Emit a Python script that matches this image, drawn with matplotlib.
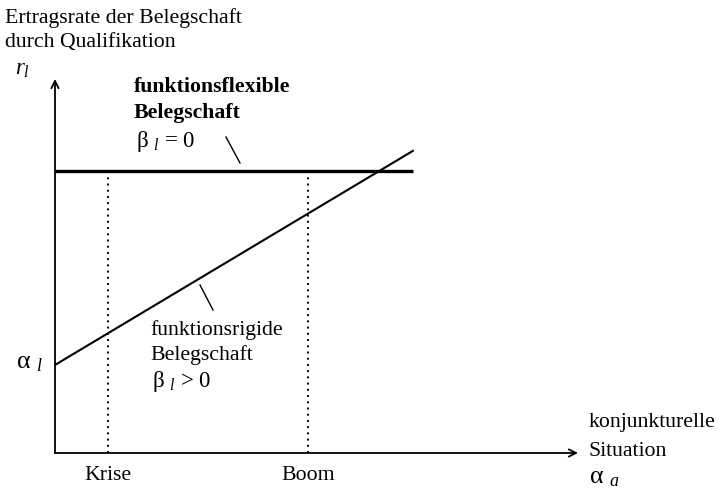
import matplotlib
matplotlib.use("Agg")
import matplotlib.pyplot as plt

plt.rcParams['font.family'] = ['Liberation Serif', 'DejaVu Serif']
plt.rcParams['mathtext.fontset'] = 'custom'
plt.rcParams['mathtext.rm'] = 'Liberation Serif'
plt.rcParams['mathtext.it'] = 'Liberation Serif:italic'
plt.rcParams['mathtext.bf'] = 'Liberation Serif:bold'

# data (abstract units: alpha_a on x, r_l on y)
x_range = [0, 10.08]
r_flexibel = [7.94, 7.94]          # beta_l = 0
r_rigide = [2.48, 8.51]            # beta_l > 0, starts at alpha_l
krise = 1.49
boom = 7.13
situationen = [krise, boom]
situation_labels = ["Krise", "Boom"]

W, H = 719, 491
X0, Y0, S = 55, 453, 35.5   # origin in pixels, pixels per unit
fig = plt.figure(figsize=(W / 100, H / 100), dpi=100)
ax = fig.add_axes([X0 / W, (H - Y0) / H, 523 / W, 374 / H])
ax.set_xlim(0, 523 / S)
ax.set_ylim(0, 374 / S)
ax.axis('off')

def px(x, y):
    # pixel position -> data position
    return (x - X0) / S, (Y0 - y) / S

FS = 15.7

# axes with arrows
arrow = dict(arrowstyle="->", lw=1.3, color='black', shrinkA=0, shrinkB=0, mutation_scale=13)
ax.annotate("", xy=(523 / S, 0), xytext=(0, 0), arrowprops=arrow, annotation_clip=False)
ax.annotate("", xy=(0, 374 / S), xytext=(0, 0), arrowprops=arrow, annotation_clip=False)

# lines
ax.plot(x_range, r_flexibel, color='black', lw=2.4, solid_capstyle='butt')
ax.plot(x_range, r_rigide, color='black', lw=1.5)
for s in situationen:
    ax.plot([s, s], [0, r_flexibel[0]], color='black', lw=1.4, ls=(0, (1, 2.2)))

# tick labels
for s, lab in zip(situationen, situation_labels):
    ax.text(s, px(0, 475)[1], lab, ha='center', va='center', fontsize=FS)

# axis labels
fig.text(5 / W, 1 - 18 / H, "Ertragsrate der Belegschaft", ha='left', va='center', fontsize=FS)
fig.text(5 / W, 1 - 43 / H, "durch Qualifikation", ha='left', va='center', fontsize=FS)
ax.text(*px(22, 70), "$r_{l}$", ha='center', va='center', fontsize=16.5)
ax.text(*px(29, 363), "α $_{l}$", ha='center', va='center', fontsize=18.5)
ax.text(*px(589, 423), "konjunkturelle", ha='left', va='center', fontsize=FS)
ax.text(*px(589, 451), "Situation", ha='left', va='center', fontsize=FS)
ax.text(*px(589, 478), "α $_{a}$", ha='left', va='center', fontsize=18.5)

# curve labels
ax.text(*px(134, 87), "funktionsflexible", ha='left', va='center',
        fontsize=FS, fontweight='bold')
ax.text(*px(134, 113), "Belegschaft", ha='left', va='center',
        fontsize=FS, fontweight='bold')
ax.text(*px(136, 142), "β $_{l}$ = 0", ha='left', va='center', fontsize=16.5)
ax.plot(*zip(px(226, 137), px(240, 163)), color='black', lw=1)

ax.text(*px(150, 330), "funktionsrigide", ha='left', va='center', fontsize=FS)
ax.text(*px(150, 355), "Belegschaft", ha='left', va='center', fontsize=FS)
ax.text(*px(152, 382), "β $_{l}$ > 0", ha='left', va='center', fontsize=16.5)
ax.plot(*zip(px(200, 285), px(213, 310)), color='black', lw=1)

fig.savefig("out.png", dpi=100)
